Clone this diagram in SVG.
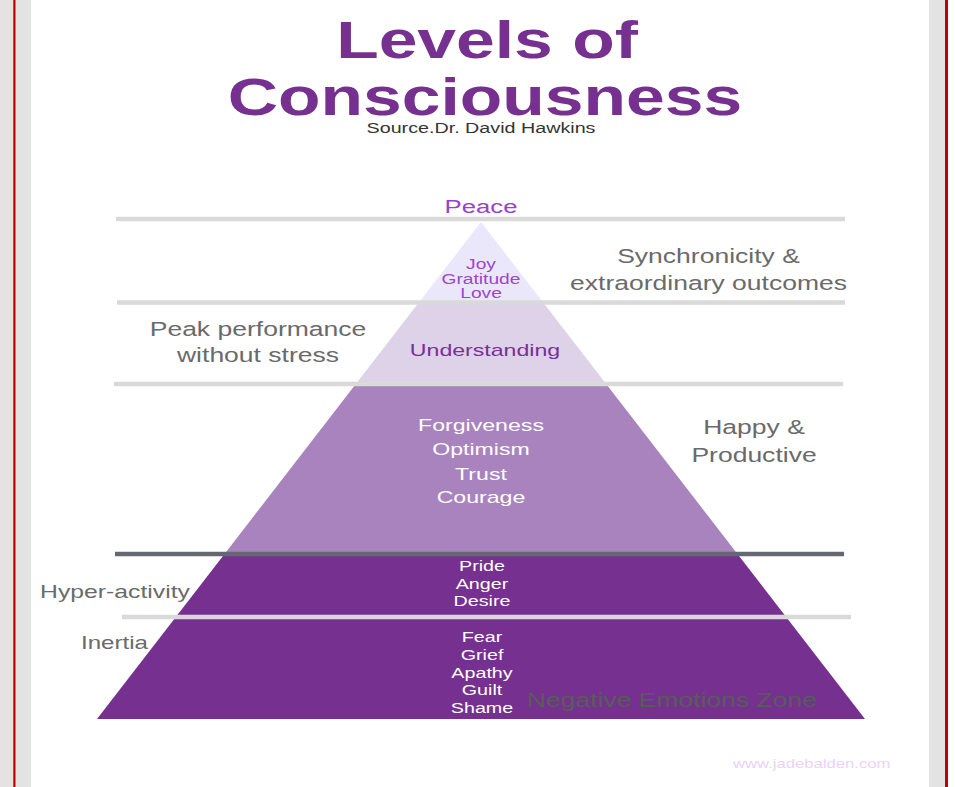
<svg xmlns="http://www.w3.org/2000/svg" width="955" height="787" viewBox="0 0 955 787">
<style>
text{font-family:"Liberation Sans",Arial,sans-serif;text-anchor:middle}
.title{font-size:51px;font-weight:bold;fill:#76308f}
.src{font-size:14.5px;fill:#333333}
.side{font-size:19.5px;fill:#6a6a6a}
.side18{font-size:18px;fill:#6a6a6a}
.wl{font-size:14.5px;fill:#ffffff}
.wm{font-size:17px;fill:#ffffff}
.gl{stroke:#d9d9d9;stroke-width:4.5}
</style>
<rect x="0" y="0" width="955" height="787" fill="#ffffff"/>
<rect x="0" y="0" width="31" height="787" fill="#e3e3e3"/>
<rect x="13.3" y="0" width="2.2" height="787" fill="#c00000"/>
<rect x="929" y="0" width="16" height="787" fill="#e3e3e3"/>
<rect x="945" y="0" width="3" height="787" fill="#c00000"/>

<g id="title">
<text class="title" transform="translate(487,58) scale(1.365,1)">Levels of</text>
<text class="title" transform="translate(485,115) scale(1.365,1)">Consciousness</text>
<text class="src" transform="translate(481,133) scale(1.36,1)">Source.Dr. David Hawkins</text>
</g>

<g id="pyramid">
<polygon id="layer-top" points="481,222 419.2,302 542.8,302" fill="#ebe7fb"/>
<polygon id="layer-understanding" points="419.2,302 542.8,302 606.2,384 355.8,384" fill="#ddd2e8"/>
<polygon id="layer-middle" points="355.8,384 606.2,384 736.7,553 225.3,553" fill="#a983be"/>
<polygon id="layer-dark" points="225.3,553 736.7,553 865,719 97,719" fill="#76308f"/>
</g>

<g id="connectors">
<line class="gl" x1="116" y1="219" x2="845" y2="219"/>
<line class="gl" x1="117" y1="302.5" x2="845" y2="302.5"/>
<line class="gl" x1="114" y1="384" x2="843" y2="384"/>
<line x1="115" y1="554" x2="844" y2="554" stroke="#656872" stroke-width="4.5"/>
<line class="gl" x1="122" y1="617" x2="851" y2="617"/>
</g>

<g id="node-peace">
<text transform="translate(481,213) scale(1.355,1)" font-size="19" fill="#9b3fcc">Peace</text>
</g>
<g id="node-joy">
<text transform="translate(481,269) scale(1.37,1)" font-size="14" fill="#9d45cc">Joy</text>
<text transform="translate(481,284) scale(1.37,1)" font-size="14" fill="#9d45cc">Gratitude</text>
<text transform="translate(481,298) scale(1.37,1)" font-size="14" fill="#9d45cc">Love</text>
</g>
<g id="node-understanding">
<text transform="translate(485,356) scale(1.36,1)" font-size="17" fill="#7a2e9a">Understanding</text>
</g>
<g id="node-forgiveness">
<text class="wm" transform="translate(481,431) scale(1.36,1)">Forgiveness</text>
<text class="wm" transform="translate(481,455) scale(1.36,1)">Optimism</text>
<text class="wm" transform="translate(481,480) scale(1.36,1)">Trust</text>
<text class="wm" transform="translate(481,503) scale(1.36,1)">Courage</text>
</g>
<g id="node-pride">
<text class="wl" transform="translate(482,571) scale(1.36,1)">Pride</text>
<text class="wl" transform="translate(482,589) scale(1.36,1)">Anger</text>
<text class="wl" transform="translate(482,606) scale(1.36,1)">Desire</text>
</g>
<g id="node-fear">
<text class="wl" transform="translate(482,642) scale(1.36,1)">Fear</text>
<text class="wl" transform="translate(482,660) scale(1.36,1)">Grief</text>
<text class="wl" transform="translate(482,678) scale(1.36,1)">Apathy</text>
<text class="wl" transform="translate(482,695) scale(1.36,1)">Guilt</text>
<text class="wl" transform="translate(482,713) scale(1.36,1)">Shame</text>
</g>
<g id="label-negative">
<text transform="translate(527,707) scale(1.358,1)" font-size="19.5" fill="#565e58" style="text-anchor:start">Negative Emotions Zone</text>
</g>

<g id="label-synchronicity">
<text class="side" transform="translate(708.5,263) scale(1.36,1)">Synchronicity &amp;</text>
<text class="side" transform="translate(708.5,290) scale(1.36,1)">extraordinary outcomes</text>
</g>
<g id="label-peak">
<text class="side" transform="translate(258,336) scale(1.36,1)">Peak performance</text>
<text class="side" transform="translate(258,362) scale(1.36,1)">without stress</text>
</g>
<g id="label-happy">
<text class="side" transform="translate(754,434) scale(1.36,1)">Happy &amp;</text>
<text class="side" transform="translate(754,462) scale(1.36,1)">Productive</text>
</g>
<g id="label-hyper">
<text class="side18" transform="translate(40,598) scale(1.376,1)" style="text-anchor:start">Hyper-activity</text>
</g>
<g id="label-inertia">
<text class="side18" transform="translate(81,649) scale(1.34,1)" style="text-anchor:start">Inertia</text>
</g>
<g id="watermark">
<text transform="translate(733,768) scale(1.39,1)" font-size="12" fill="#ead2fa" style="text-anchor:start">www.jadebalden.com</text>
</g>
</svg>
